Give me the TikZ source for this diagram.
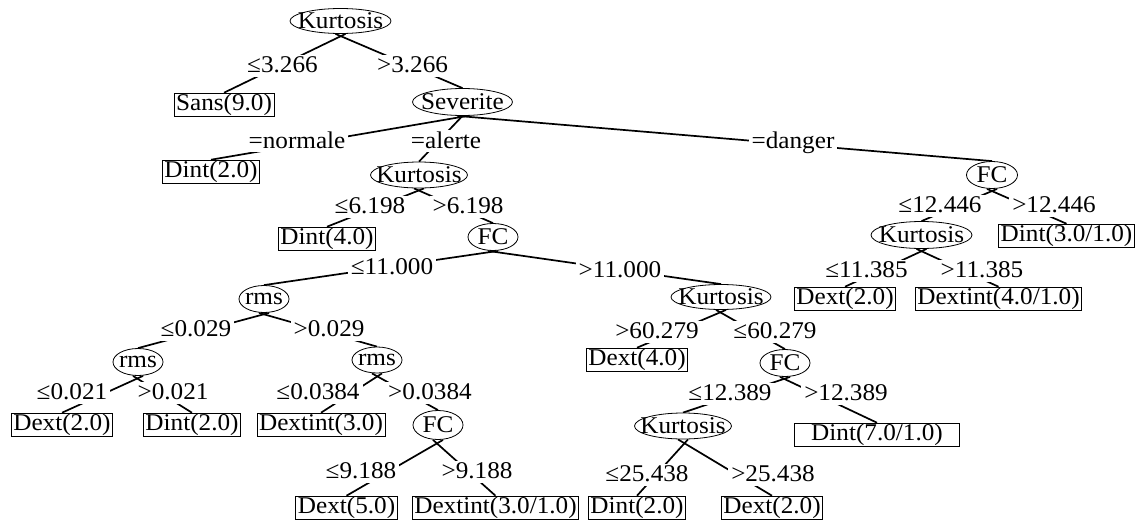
\documentclass[tikz,border=0pt]{standalone}
\usepackage{fontspec}
\setmainfont[FakeStretch=1.05]{Liberation Serif}
\usetikzlibrary{shapes.geometric,backgrounds}
\tikzset{
  att/.style={draw, ellipse, inner sep=0pt, minimum height=27pt, line width=0.8pt, fill=white},
  leaf/.style={draw, rectangle, inner xsep=2pt, inner ysep=1pt, line width=0.8pt, fill=white},
  lbl/.style={fill=white, inner xsep=3pt, inner ysep=2pt, text depth=2pt},
  edge/.style={line width=1.7pt},
  L/.style={xshift=5pt},
  R/.style={xshift=-5pt}
}
\newcommand{\tx}[1]{\makebox[0pt]{#1}}
\begin{document}
\begin{tikzpicture}[x=1pt, y=-1pt, font=\fontsize{24}{26}\selectfont]
\useasboundingbox (0,0) rectangle (1140,522);
% attribute nodes
\node[att, minimum width=101pt, minimum height=25pt] (k1) at (340.5,21) {\tx{Kurtosis}};
\node[att, minimum width=100pt] (sev) at (462.5,102) {\tx{Severite}};
\node[att, minimum width=97pt, minimum height=26pt] (k2) at (419,175) {\tx{Kurtosis}};
\node[att, minimum width=51pt] (fc1) at (992,175) {\tx{FC}};
\node[att, minimum width=50pt] (fc2) at (493,237) {\tx{FC}};
\node[att, minimum width=101pt] (k3) at (921.5,235) {\tx{Kurtosis}};
\node[att, minimum width=50pt] (rms1) at (264,299) {\tx{rms}};
\node[att, minimum width=100pt, minimum height=25pt] (k4) at (721,297) {\tx{Kurtosis}};
\node[att, minimum width=50pt] (rms2) at (138,362) {\tx{rms}};
\node[att, minimum width=50pt, minimum height=26pt] (rms3) at (377,360) {\tx{rms}};
\node[att, minimum width=50pt] (fc3) at (785,363) {\tx{FC}};
\node[att, minimum width=50pt, minimum height=29pt] (fc4) at (438,425) {\tx{FC}};
\node[att, minimum width=97pt, minimum height=26pt] (k5) at (683,426) {\tx{Kurtosis}};
% leaves
\node[leaf] (l1) at (224,105) {Sans(9.0)};
\node[leaf] (l2) at (211,172) {Dint(2.0)};
\node[leaf] (l3) at (327,239) {Dint(4.0)};
\node[leaf] (l4) at (1066.5,236) {Dint(3.0/1.0)};
\node[leaf] (l5) at (845,299) {Dext(2.0)};
\node[leaf] (l6) at (998.5,299) {Dextint(4.0/1.0)};
\node[leaf] (l7) at (637,360) {Dext(4.0)};
\node[leaf] (l8) at (62,425) {Dext(2.0)};
\node[leaf] (l9) at (192,425) {Dint(2.0)};
\node[leaf] (l10) at (321,425) {Dextint(3.0)};
\node[leaf, minimum width=165pt] (l11) at (877,435) {Dint(7.0/1.0)};
\node[leaf] (l12) at (346.5,508) {Dext(5.0)};
\node[leaf] (l13) at (495.5,508) {Dextint(3.0/1.0)};
\node[leaf] (l14) at (637,508) {Dint(2.0)};
\node[leaf] (l15) at (772,508) {Dext(2.0)};
% edge labels
\node[lbl] (e1) at (282.5,66) {≤3.266};
\node[lbl] (e2) at (412.5,66) {>3.266};
\node[lbl] (e3) at (297,141) {=normale};
\node[lbl] (e4) at (446,141) {=alerte};
\node[lbl] (e5) at (793,141) {=danger};
\node[lbl] (e6) at (370,207) {≤6.198};
\node[lbl] (e7) at (468,207) {>6.198};
\node[lbl] (e8) at (940,206) {≤12.446};
\node[lbl] (e9) at (1054,206) {>12.446};
\node[lbl] (e10) at (392,268) {≤11.000};
\node[lbl] (e11) at (620,271) {>11.000};
\node[lbl] (e12) at (866.5,271) {≤11.385};
\node[lbl] (e13) at (982,271) {>11.385};
\node[lbl] (e14) at (196,330) {≤0.029};
\node[lbl] (e15) at (329,330) {>0.029};
\node[lbl] (e16) at (657,332) {>60.279};
\node[lbl] (e17) at (775,332) {≤60.279};
\node[lbl] (e18) at (72,393) {≤0.021};
\node[lbl] (e19) at (173,393) {>0.021};
\node[lbl] (e20) at (318,393) {≤0.0384};
\node[lbl] (e21) at (430,393) {>0.0384};
\node[lbl] (e22) at (730,394) {≤12.389};
\node[lbl] (e23) at (846,394) {>12.389};
\node[lbl] (e24) at (361,472) {≤9.188};
\node[lbl] (e25) at (477,472) {>9.188};
\node[lbl] (e26) at (647,475) {≤25.438};
\node[lbl] (e27) at (773,475) {>25.438};
% edges
\begin{scope}[on background layer]
\draw[edge] ([L]k1.south) -- (l1.north);
\draw[edge] ([R]k1.south) -- (sev.north);
\draw[edge] ([L]sev.south) -- (l2.north);
\draw[edge] (sev.south) -- (k2.north);
\draw[edge] ([R]sev.south) -- (fc1.north);
\draw[edge] ([L]k2.south) -- (l3.north);
\draw[edge] ([R]k2.south) -- (fc2.north);
\draw[edge] ([L]fc1.south) -- (k3.north);
\draw[edge] ([R]fc1.south) -- (l4.north);
\draw[edge] ([L]fc2.south) -- (rms1.north);
\draw[edge] ([R]fc2.south) -- (k4.north);
\draw[edge] ([L]k3.south) -- (l5.north);
\draw[edge] ([R]k3.south) -- (l6.north);
\draw[edge] ([L]rms1.south) -- (rms2.north);
\draw[edge] ([R]rms1.south) -- (rms3.north);
\draw[edge] ([L]k4.south) -- (l7.north);
\draw[edge] ([R]k4.south) -- (fc3.north);
\draw[edge] ([L]rms2.south) -- (l8.north);
\draw[edge] ([R]rms2.south) -- (l9.north);
\draw[edge] ([L]rms3.south) -- (l10.north);
\draw[edge] ([R]rms3.south) -- (fc4.north);
\draw[edge] ([L]fc3.south) -- (k5.north);
\draw[edge] ([R]fc3.south) -- (l11.north);
\draw[edge] ([L]fc4.south) -- (l12.north);
\draw[edge] ([R]fc4.south) -- (l13.north);
\draw[edge] ([L]k5.south) -- (l14.north);
\draw[edge] ([R]k5.south) -- (l15.north);
\end{scope}
\end{tikzpicture}
\end{document}
